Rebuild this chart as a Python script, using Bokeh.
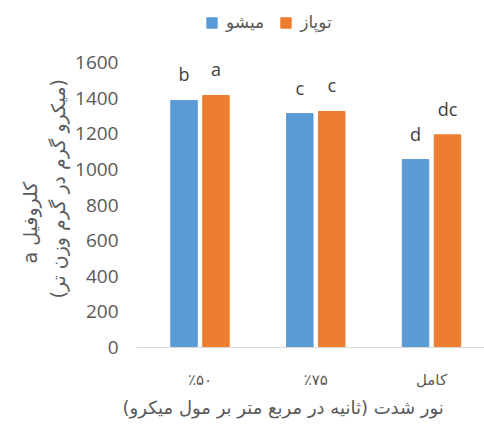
from bokeh.plotting import figure
from bokeh.models import (ColumnDataSource, Range1d, FixedTicker, LinearAxis,
                          Legend, LegendItem, Title)
from bokeh.core.properties import value
from bokeh.embed import file_html
from bokeh.resources import INLINE

categories = ["٪۵۰", "٪۷۵", "کامل"]
series_names = ["میشو", "توپاز"]
mishu = [1387, 1313, 1055]
topaz = [1415, 1325, 1194]
mishu_letters = ["b", "c", "d"]
topaz_letters = ["a", "c", "dc"]
y_ticks = [0, 200, 400, 600, 800, 1000, 1200, 1400, 1600]
y_title_1 = "a کلروفیل"
y_title_2 = "(میکرو گرم در گرم وزن تر)"
# the reference shows the words of this title in left-to-right order;
# written here in the order that the right-to-left renderer turns into that
x_title = "(ثانیه در مربع متر بر مول میکرو) نور شدت"

BLUE = "#5B9BD5"
ORANGE = "#ED7D31"
GRAY = "#595959"
FA_FONT = "DejaVu Sans"
NUM_FONT = "Open Sans"

xpos = list(range(len(categories)))
off = 0.138
bw = 0.229
src_m = ColumnDataSource(dict(x=[v - off for v in xpos], top=mishu, lab=mishu_letters))
src_t = ColumnDataSource(dict(x=[v + off for v in xpos], top=topaz, lab=topaz_letters))

# frame reaches the top of the picture; the value axis stops at 1600
p = figure(width=484, height=428, output_backend="svg", toolbar_location=None,
           x_range=Range1d(-0.5486, 2.458), y_range=Range1d(0, 1600 * 347 / 285),
           min_border_left=136, min_border_right=0, min_border_top=0,
           min_border_bottom=81, y_axis_location=None, x_axis_location=None)
p.outline_line_color = None
p.xgrid.visible = False
p.ygrid.visible = False
p.background_fill_color = "white"
p.border_fill_color = "white"

rm = p.vbar(x="x", top="top", width=bw, source=src_m, fill_color=BLUE, line_color=BLUE)
rt = p.vbar(x="x", top="top", width=bw, source=src_t, fill_color=ORANGE, line_color=ORANGE)

for s in (src_m, src_t):
    p.text(x="x", y="top", text="lab", source=s, text_align="center",
           text_baseline="alphabetic", y_offset=-26, text_color="#404040",
           text_font=value(NUM_FONT), text_font_size="18px")

ya = LinearAxis(ticker=FixedTicker(ticks=y_ticks))
ya.axis_line_color = None
ya.major_tick_line_color = None
ya.minor_tick_line_color = None
ya.major_tick_out = 0
ya.major_tick_in = 0
ya.major_label_standoff = 18
ya.major_label_text_font = NUM_FONT
ya.major_label_text_font_size = "19px"
ya.major_label_text_color = GRAY
p.add_layout(ya, "left")

xa = LinearAxis(ticker=FixedTicker(ticks=xpos),
                major_label_overrides={i: c for i, c in zip(xpos, categories)})
xa.axis_line_color = "#D9D9D9"
xa.axis_line_width = 1
xa.major_tick_line_color = None
xa.minor_tick_line_color = None
xa.major_tick_out = 0
xa.major_tick_in = 0
xa.major_label_standoff = 23
xa.major_label_text_font = FA_FONT
xa.major_label_text_font_size = "15px"
xa.major_label_text_color = GRAY
p.add_layout(xa, "below")

title_style = dict(text_font=FA_FONT, text_color=GRAY,
                   text_font_style="normal", align="left")
t2 = Title(text=y_title_2, offset=49, standoff=8, text_font_size="19px", **title_style)
t1 = Title(text=y_title_1, offset=84, standoff=0, text_font_size="19px", **title_style)
p.add_layout(t2, "left")
p.add_layout(t1, "left")
tx = Title(text=x_title, offset=-14, standoff=6, text_font_size="18px", **title_style)
p.add_layout(tx, "below")

legend = Legend(items=[LegendItem(label=series_names[0], renderers=[rm]),
                       LegendItem(label=series_names[1], renderers=[rt])],
                location=(69, 315), orientation="horizontal")
legend.glyph_width = 13
legend.glyph_height = 13
legend.label_standoff = 8
legend.spacing = 15
legend.padding = 0
legend.margin = 0
legend.border_line_color = None
legend.background_fill_alpha = 0
legend.label_text_font = FA_FONT
legend.label_text_font_size = "17px"
legend.label_text_color = GRAY
p.add_layout(legend, "center")

open("out.html", "w").write(file_html(p, INLINE))
